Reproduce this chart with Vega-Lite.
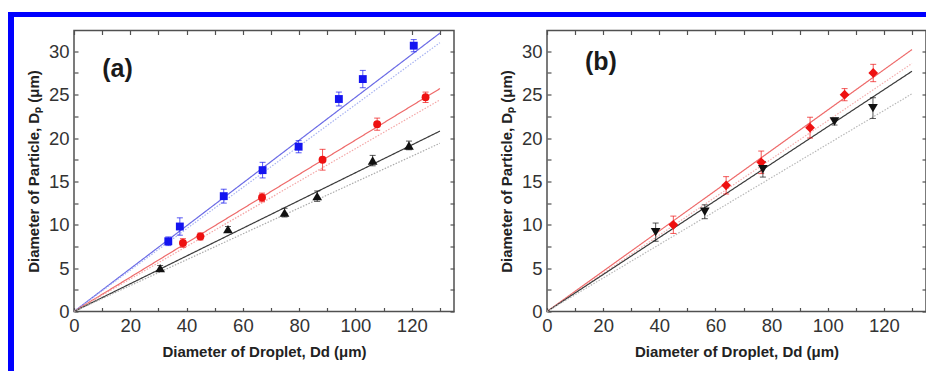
{
  "$schema": "https://vega.github.io/schema/vega-lite/v6.json",
  "background": "white",
  "padding": {"left": 8, "top": 12, "right": 0, "bottom": 0},
  "datasets": {
    "pointsA": [
      {"s": "A-blue", "x": 33.5, "y": 8.1, "lo": 7.6, "hi": 8.6},
      {"s": "A-blue", "x": 37.6, "y": 9.8, "lo": 8.8, "hi": 10.8},
      {"s": "A-blue", "x": 53.2, "y": 13.3, "lo": 12.5, "hi": 14.1},
      {"s": "A-blue", "x": 67.0, "y": 16.3, "lo": 15.4, "hi": 17.2},
      {"s": "A-blue", "x": 79.8, "y": 19.0, "lo": 18.3, "hi": 19.7},
      {"s": "A-blue", "x": 94.1, "y": 24.5, "lo": 23.7, "hi": 25.3},
      {"s": "A-blue", "x": 102.6, "y": 26.8, "lo": 25.8, "hi": 27.8},
      {"s": "A-blue", "x": 120.7, "y": 30.65, "lo": 29.95, "hi": 31.35},
      {"s": "A-red", "x": 38.7, "y": 7.9, "lo": 7.4, "hi": 8.4},
      {"s": "A-red", "x": 44.9, "y": 8.65, "lo": 8.25, "hi": 9.05},
      {"s": "A-red", "x": 66.8, "y": 13.15, "lo": 12.65, "hi": 13.65},
      {"s": "A-red", "x": 88.3, "y": 17.5, "lo": 16.3, "hi": 18.7},
      {"s": "A-red", "x": 107.7, "y": 21.6, "lo": 20.9, "hi": 22.3},
      {"s": "A-red", "x": 124.9, "y": 24.7, "lo": 24.1, "hi": 25.3},
      {"s": "A-black", "x": 30.6, "y": 5.0, "lo": 4.7, "hi": 5.3},
      {"s": "A-black", "x": 54.7, "y": 9.5, "lo": 9.2, "hi": 9.8},
      {"s": "A-black", "x": 74.8, "y": 11.4, "lo": 10.9, "hi": 11.9},
      {"s": "A-black", "x": 86.4, "y": 13.3, "lo": 12.7, "hi": 13.9},
      {"s": "A-black", "x": 106.1, "y": 17.4, "lo": 16.8, "hi": 18.0},
      {"s": "A-black", "x": 119.0, "y": 19.15, "lo": 18.65, "hi": 19.65}
    ],
    "linesA": [
      {"s": "A-blue-fit", "kind": "fit", "x": 0, "y": 0},
      {"s": "A-blue-fit", "kind": "fit", "x": 130, "y": 32.1},
      {"s": "A-blue-model", "kind": "model", "x": 0, "y": 0},
      {"s": "A-blue-model", "kind": "model", "x": 130, "y": 31.0},
      {"s": "A-red-fit", "kind": "fit", "x": 0, "y": 0},
      {"s": "A-red-fit", "kind": "fit", "x": 130, "y": 25.7},
      {"s": "A-red-model", "kind": "model", "x": 0, "y": 0},
      {"s": "A-red-model", "kind": "model", "x": 130, "y": 24.4},
      {"s": "A-black-fit", "kind": "fit", "x": 0, "y": 0},
      {"s": "A-black-fit", "kind": "fit", "x": 130, "y": 20.8},
      {"s": "A-black-model", "kind": "model", "x": 0, "y": 0},
      {"s": "A-black-model", "kind": "model", "x": 130, "y": 19.4}
    ],
    "pointsB": [
      {"s": "B-red", "x": 45.0, "y": 10.0, "lo": 9.0, "hi": 11.0},
      {"s": "B-red", "x": 63.8, "y": 14.55, "lo": 13.55, "hi": 15.55},
      {"s": "B-red", "x": 76.3, "y": 17.2, "lo": 15.9, "hi": 18.5},
      {"s": "B-red", "x": 93.7, "y": 21.2, "lo": 20.0, "hi": 22.4},
      {"s": "B-red", "x": 106.0, "y": 25.0, "lo": 24.3, "hi": 25.7},
      {"s": "B-red", "x": 116.2, "y": 27.5, "lo": 26.5, "hi": 28.5},
      {"s": "B-black", "x": 38.7, "y": 9.15, "lo": 8.1, "hi": 10.2},
      {"s": "B-black", "x": 56.2, "y": 11.5, "lo": 10.7, "hi": 12.3},
      {"s": "B-black", "x": 76.9, "y": 16.4, "lo": 15.5, "hi": 17.3},
      {"s": "B-black", "x": 102.4, "y": 21.9, "lo": 21.5, "hi": 22.3},
      {"s": "B-black", "x": 116.1, "y": 23.45, "lo": 22.25, "hi": 24.65}
    ],
    "linesB": [
      {"s": "B-red-fit", "kind": "fit", "x": 0, "y": 0},
      {"s": "B-red-fit", "kind": "fit", "x": 130, "y": 30.2},
      {"s": "B-red-model", "kind": "model", "x": 0, "y": 0},
      {"s": "B-red-model", "kind": "model", "x": 130, "y": 28.6},
      {"s": "B-black-fit", "kind": "fit", "x": 0, "y": 0},
      {"s": "B-black-fit", "kind": "fit", "x": 130, "y": 27.7},
      {"s": "B-black-model", "kind": "model", "x": 0, "y": 0},
      {"s": "B-black-model", "kind": "model", "x": 130, "y": 25.1}
    ]
  },
  "spacing": 0,
  "vconcat": [
    {
      "width": 918, "height": 5,
      "view": {"fill": "#0000ff", "stroke": null},
      "data": {"values": []},
      "mark": "point"
    },
    {
      "spacing": 11,
      "hconcat": [
        {
          "width": 6, "height": 354,
          "view": {"fill": "#0000ff", "stroke": null},
          "data": {"values": []},
          "mark": "point"
        },
        {
          "spacing": 10.5,
          "vconcat": [
            {
              "width": 1, "height": 1,
              "view": {"fill": null, "stroke": null},
              "data": {"values": []},
              "mark": "point"
            },
            {
              "spacing": 42,
              "hconcat": [
                {
                  "width": 380, "height": 281,
                  "view": {"stroke": "#505050", "strokeWidth": 1.5},
                  "resolve": {"axis": {"x": "independent", "y": "independent"}},
                  "layer": [
                    {
                      "data": {"name": "linesA"},
                      "mark": {"type": "line", "strokeWidth": 1.2},
                      "encoding": {
                        "x": {"field": "x", "type": "quantitative", "scale": {"domain": [0, 135], "nice": false},
                          "axis": {"orient": "bottom", "values": [0,10,20,30,40,50,60,70,80,90,100,110,120,130], "format": "d", "labelExpr": "datum.value % 20 === 0 ? datum.label : ''", "title": "Diameter of Droplet, Dd (μm)"}},
                        "y": {"field": "y", "type": "quantitative", "scale": {"domain": [0, 32.4], "nice": false},
                          "axis": {"orient": "left", "values": [0,2.5,5,7.5,10,12.5,15,17.5,20,22.5,25,27.5,30], "format": "d", "labelExpr": "datum.value % 5 === 0 ? datum.label : ''", "title": "Diameter of Particle, Dₚ (μm)"}},
                        "color": {"field": "s", "type": "nominal", "legend": null,
                          "scale": {"domain": ["A-blue","A-red","A-black","B-red","B-black","A-blue-fit","A-blue-model","A-red-fit","A-red-model","A-black-fit","A-black-model","B-red-fit","B-red-model","B-black-fit","B-black-model"],
                                    "range": ["#1414f0","#ee1111","#111111","#ee1111","#111111","#6b6be6","#a9b4f2","#ee6a6a","#f4a6a6","#3a3a3a","#aaaaaa","#ee6a6a","#f4b0b0","#3a3a3a","#b8b8b8"]}},
                        "strokeDash": {"field": "kind", "type": "nominal", "legend": null, "scale": {"domain": ["fit", "model"], "range": [[1, 0], [1.5, 1.5]]}}
                      }
                    },
                    {
                      "data": {"name": "pointsA"},
                      "mark": {"type": "errorbar", "ticks": {"size": 6}, "thickness": 1, "opacity": 0.7},
                      "encoding": {
                        "x": {"field": "x", "type": "quantitative", "axis": null},
                        "y": {"field": "lo", "type": "quantitative", "axis": null},
                        "y2": {"field": "hi"},
                        "color": {"field": "s", "type": "nominal", "legend": null}
                      }
                    },
                    {
                      "data": {"name": "pointsA"},
                      "transform": [{"filter": "datum.s !== 'A-black'"}],
                      "mark": {"type": "point", "filled": true, "size": 62, "opacity": 1},
                      "encoding": {
                        "x": {"field": "x", "type": "quantitative", "axis": {"orient": "top", "values": [0,10,20,30,40,50,60,70,80,90,100,110,120,130], "labels": false, "title": null}},
                        "y": {"field": "y", "type": "quantitative", "axis": {"orient": "right", "values": [0,2.5,5,7.5,10,12.5,15,17.5,20,22.5,25,27.5,30], "labels": false, "title": null}},
                        "color": {"field": "s", "type": "nominal", "legend": null},
                        "shape": {"field": "s", "type": "nominal", "legend": null,
                          "scale": {"domain": ["A-blue","A-red","A-black","B-red","B-black"], "range": ["square","circle","triangle-up","diamond","triangle-down"]}}
                      }
                    },
                    {
                      "data": {"name": "pointsA"},
                      "transform": [{"filter": "datum.s === 'A-black'"}],
                      "mark": {"type": "point", "filled": true, "size": 95, "opacity": 1},
                      "encoding": {
                        "x": {"field": "x", "type": "quantitative", "axis": null},
                        "y": {"field": "y", "type": "quantitative", "axis": null},
                        "color": {"field": "s", "type": "nominal", "legend": null},
                        "shape": {"field": "s", "type": "nominal", "legend": null}
                      }
                    },
                    {
                      "data": {"values": [{"label": "(a)", "x": 10, "y": 28}]},
                      "mark": {"type": "text", "align": "left", "baseline": "middle", "fontSize": 25, "fontWeight": "bold", "font": "Liberation Sans", "color": "#1a1a1a"},
                      "encoding": {
                        "x": {"field": "x", "type": "quantitative", "axis": null},
                        "y": {"field": "y", "type": "quantitative", "axis": null},
                        "text": {"field": "label"}
                      }
                    }
                  ]
                },
                {
                  "width": 379, "height": 281,
                  "view": {"stroke": "#505050", "strokeWidth": 1.5},
                  "resolve": {"axis": {"x": "independent", "y": "independent"}},
                  "layer": [
                    {
                      "data": {"name": "linesB"},
                      "mark": {"type": "line", "strokeWidth": 1.2},
                      "encoding": {
                        "x": {"field": "x", "type": "quantitative", "scale": {"domain": [0, 135], "nice": false},
                          "axis": {"orient": "bottom", "values": [0,10,20,30,40,50,60,70,80,90,100,110,120,130], "format": "d", "labelExpr": "datum.value % 20 === 0 ? datum.label : ''", "title": "Diameter of Droplet, Dd (μm)"}},
                        "y": {"field": "y", "type": "quantitative", "scale": {"domain": [0, 32.4], "nice": false},
                          "axis": {"orient": "left", "values": [0,2.5,5,7.5,10,12.5,15,17.5,20,22.5,25,27.5,30], "format": "d", "labelExpr": "datum.value % 5 === 0 ? datum.label : ''", "title": "Diameter of Particle, Dₚ (μm)"}},
                        "color": {"field": "s", "type": "nominal", "legend": null},
                        "strokeDash": {"field": "kind", "type": "nominal", "legend": null, "scale": {"domain": ["fit", "model"], "range": [[1, 0], [1.5, 1.5]]}}
                      }
                    },
                    {
                      "data": {"name": "pointsB"},
                      "mark": {"type": "errorbar", "ticks": {"size": 6}, "thickness": 1, "opacity": 0.7},
                      "encoding": {
                        "x": {"field": "x", "type": "quantitative", "axis": null},
                        "y": {"field": "lo", "type": "quantitative", "axis": null},
                        "y2": {"field": "hi"},
                        "color": {"field": "s", "type": "nominal", "legend": null}
                      }
                    },
                    {
                      "data": {"name": "pointsB"},
                      "mark": {"type": "point", "filled": true, "size": 95, "opacity": 1},
                      "encoding": {
                        "x": {"field": "x", "type": "quantitative", "axis": {"orient": "top", "values": [0,10,20,30,40,50,60,70,80,90,100,110,120,130], "labels": false, "title": null}},
                        "y": {"field": "y", "type": "quantitative", "axis": {"orient": "right", "values": [0,2.5,5,7.5,10,12.5,15,17.5,20,22.5,25,27.5,30], "labels": false, "title": null}},
                        "color": {"field": "s", "type": "nominal", "legend": null},
                        "shape": {"field": "s", "type": "nominal", "legend": null}
                      }
                    },
                    {
                      "data": {"values": [{"label": "(b)", "x": 13.5, "y": 28.8}]},
                      "mark": {"type": "text", "align": "left", "baseline": "middle", "fontSize": 25, "fontWeight": "bold", "font": "Liberation Sans", "color": "#1a1a1a"},
                      "encoding": {
                        "x": {"field": "x", "type": "quantitative", "axis": null},
                        "y": {"field": "y", "type": "quantitative", "axis": null},
                        "text": {"field": "label"}
                      }
                    }
                  ]
                }
              ]
            }
          ]
        }
      ]
    }
  ],
  "config": {
    "font": "Liberation Sans",
    "axis": {
      "domain": false,
      "grid": false,
      "tickColor": "#505050",
      "tickWidth": 1.2,
      "tickSize": -4,
      "labelPadding": 9,
      "labelFont": "Liberation Sans",
      "labelFontSize": 18.5,
      "labelColor": "#333333",
      "labelOverlap": false,
      "labelFlush": false,
      "titleFont": "Liberation Sans",
      "titleFontWeight": "bold",
      "titleFontSize": 15,
      "titleColor": "#222222"
    },
    "axisX": {"titlePadding": 9},
    "axisY": {"titlePadding": 7}
  }
}
